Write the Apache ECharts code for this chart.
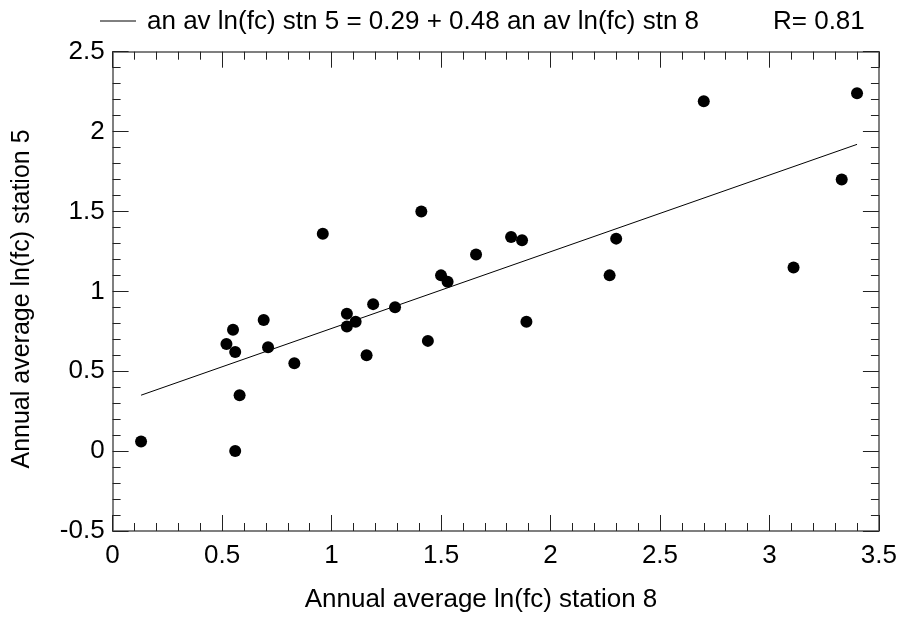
<!DOCTYPE html>
<html>
<head>
<meta charset="utf-8">
<script src="https://cdn.jsdelivr.net/npm/echarts@6/dist/echarts.min.js"></script>
<style>
html,body{margin:0;padding:0;background:#fff;}
#chart{width:900px;height:617px;}
</style>
</head>
<body>
<div id="chart"></div>
<script>
// Data
var station8 = [0.13, 0.56, 0.52, 0.55, 0.56, 0.58, 0.69, 0.71, 0.83, 0.96,
                1.07, 1.07, 1.11, 1.16, 1.19, 1.29, 1.41, 1.44, 1.50, 1.53,
                1.66, 1.82, 1.87, 1.89, 2.27, 2.30, 2.70, 3.11, 3.33, 3.40];
var station5 = [0.06, 0.00, 0.67, 0.76, 0.62, 0.35, 0.82, 0.65, 0.55, 1.36,
                0.86, 0.78, 0.81, 0.60, 0.92, 0.90, 1.50, 0.69, 1.10, 1.06,
                1.23, 1.34, 1.32, 0.81, 1.10, 1.33, 2.19, 1.15, 1.70, 2.24];
var fitX = [0.13, 3.40];
var fitY = [0.35, 1.92];
var xTicks = [0, 0.5, 1, 1.5, 2, 2.5, 3, 3.5];
var yTicks = [-0.5, 0, 0.5, 1, 1.5, 2, 2.5];
var legendText = 'an av ln(fc) stn 5 = 0.29 + 0.48 an av ln(fc) stn 8';
var rText = 'R= 0.81';
var xTitle = 'Annual average ln(fc) station 8';
var yTitle = 'Annual average ln(fc) station 5';

var FONT = '"Liberation Sans", Arial, Helvetica, sans-serif';
var FS = 26;

var scatterData = station8.map(function (x, i) { return [x, station5[i]]; });
var fitData = fitX.map(function (x, i) { return [x, fitY[i]]; });

var axisColor = '#555';
function fmt(v) { return String(+v.toFixed(2)); }
function mkX(pos, showLabel) {
  return {
    type: 'value', position: pos, min: xTicks[0], max: xTicks[xTicks.length - 1], interval: 0.5,
    axisLine: { show: true, onZero: false, lineStyle: { color: axisColor, width: 1.5 } },
    axisTick: { show: true, inside: true, length: 16, lineStyle: { color: '#222', width: 1 } },
    minorTick: { show: true, splitNumber: 5, length: 8, lineStyle: { color: '#222', width: 1 } },
    splitLine: { show: false },
    axisLabel: { show: showLabel, margin: 12, color: '#000', fontSize: FS, fontFamily: FONT, formatter: fmt }
  };
}
function mkY(pos, showLabel) {
  return {
    type: 'value', position: pos, min: yTicks[0], max: yTicks[yTicks.length - 1], interval: 0.5,
    axisLine: { show: true, onZero: false, lineStyle: { color: axisColor, width: 1.5 } },
    axisTick: { show: true, inside: true, length: 16, lineStyle: { color: '#222', width: 1 } },
    minorTick: { show: true, splitNumber: 5, length: 8, lineStyle: { color: '#222', width: 1 } },
    splitLine: { show: false },
    axisLabel: { show: showLabel, margin: 8, color: '#000', fontSize: FS, fontFamily: FONT,
      padding: [0, 0, 6, 0], formatter: fmt }
  };
}

var chart = echarts.init(document.getElementById('chart'), null, { renderer: 'canvas' });
chart.setOption({
  animation: false,
  backgroundColor: '#fff',
  grid: { left: 112.6, right: 19.5, top: 51.7, bottom: 86, containLabel: false },
  xAxis: [mkX('bottom', true), mkX('top', false)],
  yAxis: [mkY('left', true), mkY('right', false)],
  series: [
    { type: 'line', name: legendText, data: fitData, showSymbol: false, symbol: 'none',
      lineStyle: { color: '#000', width: 1 }, xAxisIndex: 0, yAxisIndex: 0, z: 2 },
    { type: 'scatter', name: 'points', data: scatterData, symbol: 'circle', symbolSize: 12,
      itemStyle: { color: '#000', opacity: 1 }, xAxisIndex: 0, yAxisIndex: 0, z: 3 }
  ],
  graphic: [
    { type: 'line', shape: { x1: 100, y1: 21, x2: 136, y2: 21 }, style: { stroke: '#000', lineWidth: 1 } },
    { type: 'text', x: 147, y: 22, style: { text: legendText, fontSize: FS, fontFamily: FONT, fill: '#000', textAlign: 'left', textVerticalAlign: 'middle' } },
    { type: 'text', x: 773, y: 22, style: { text: rText, fontSize: FS, fontFamily: FONT, fill: '#000', textAlign: 'left', textVerticalAlign: 'middle' } },
    { type: 'text', x: 481, y: 600, style: { text: xTitle, fontSize: FS, fontFamily: FONT, fill: '#000', textAlign: 'center', textVerticalAlign: 'middle' } },
    { type: 'text', x: 22, y: 299, rotation: Math.PI / 2, style: { text: yTitle, fontSize: 25, fontFamily: FONT, fill: '#000', textAlign: 'center', textVerticalAlign: 'middle' } }
  ]
});
</script>
</body>
</html>
